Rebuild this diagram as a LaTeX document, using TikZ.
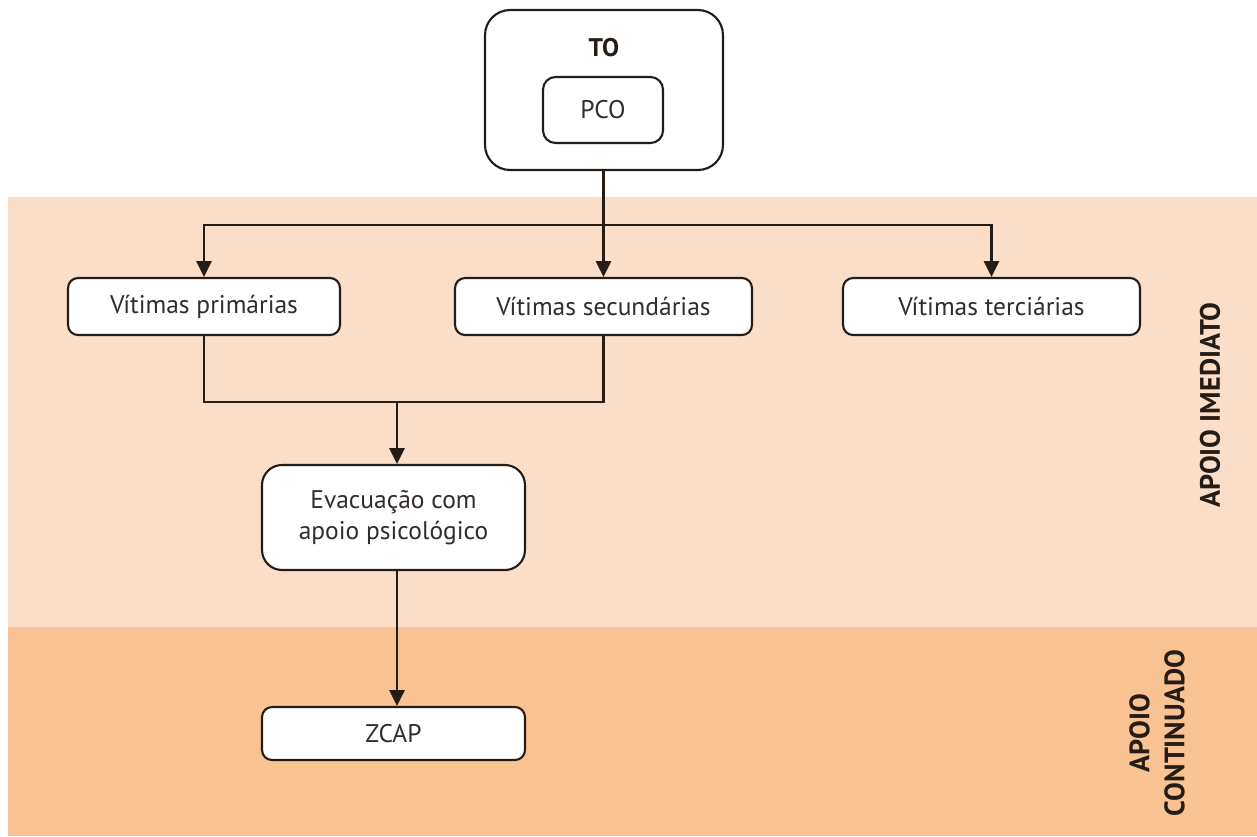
\documentclass[tikz,border=0pt]{standalone}
\usepackage{fontspec}
\setmainfont{PT Sans}
\usetikzlibrary{arrows.meta}
\definecolor{bandlight}{RGB}{250,222,200}
\definecolor{banddark}{RGB}{248,194,146}
\definecolor{linecol}{RGB}{38,28,22}
\definecolor{txtcol}{RGB}{50,45,42}
\tikzset{
    box/.style={draw=linecol, line width=1.2pt, fill=white, rounded corners=0.2cm,
        text=txtcol, font=\fontsize{14.5}{17.5}\selectfont, align=center, inner sep=0pt},
    link/.style={draw=linecol, line width=1.6pt},
    arrow/.style={link, -{Triangle[length=9pt,width=8.5pt]}},
    band/.style={font=\bfseries\fontsize{16}{20}\selectfont, text=linecol, rotate=90, align=center}
}
\begin{document}
\begin{tikzpicture}[x=0.02cm, y=-0.02cm]
        \useasboundingbox (0,0) rectangle (1257,836);
        % background bands
        \fill[bandlight] (8,197) rectangle (1257,627);
        \fill[banddark] (8,627) rectangle (1257,836);
        \node[band] (imediato) at (1210,405) {APOIO IMEDIATO};
        \node[band] (continuado) at (1157,733) {APOIO\\CONTINUADO};
        % boxes
        \node[box, rounded corners=0.5cm, minimum width=4.76cm, minimum height=3.2cm] (to) at (604,90) {};
        \node[font=\bfseries\fontsize{14.5}{17}\selectfont, text=linecol] (tolabel) at (604,48) {TO};
        \node[box, rounded corners=0.25cm, minimum width=2.4cm, minimum height=1.32cm] (pco) at (603,110) {PCO};
        \node[box, minimum width=5.44cm, minimum height=1.14cm] (prim) at (204,306.5) {Vítimas primárias};
        \node[box, minimum width=5.94cm, minimum height=1.14cm] (sec) at (603.5,306.5) {Vítimas secundárias};
        \node[box, minimum width=5.94cm, minimum height=1.14cm] (ter) at (991.5,306.5) {Vítimas terciárias};
        \node[box, rounded corners=0.4cm, minimum width=5.26cm, minimum height=2.1cm] (evac) at (393.5,517.5) {Evacuação com\\apoio psicológico};
        \node[box, minimum width=5.26cm, minimum height=1.06cm] (zcap) at (393.5,733.5) {ZCAP};
        % connectors
        \coordinate (split) at (603.5,225);
        \coordinate (join) at (397,402);
        \draw[link] (split |- to.south) -- (split);
        \draw[arrow] (split) -| (prim.north);
        \draw[arrow] (split) -- (sec.north);
        \draw[arrow] (split) -| (ter.north);
        \draw[link] (prim.south) |- (join);
        \draw[link] (sec.south) |- (join);
        \draw[arrow] (join) -- (join |- evac.north);
        \draw[arrow] (join |- evac.south) -- (join |- zcap.north);
\end{tikzpicture}
\end{document}
